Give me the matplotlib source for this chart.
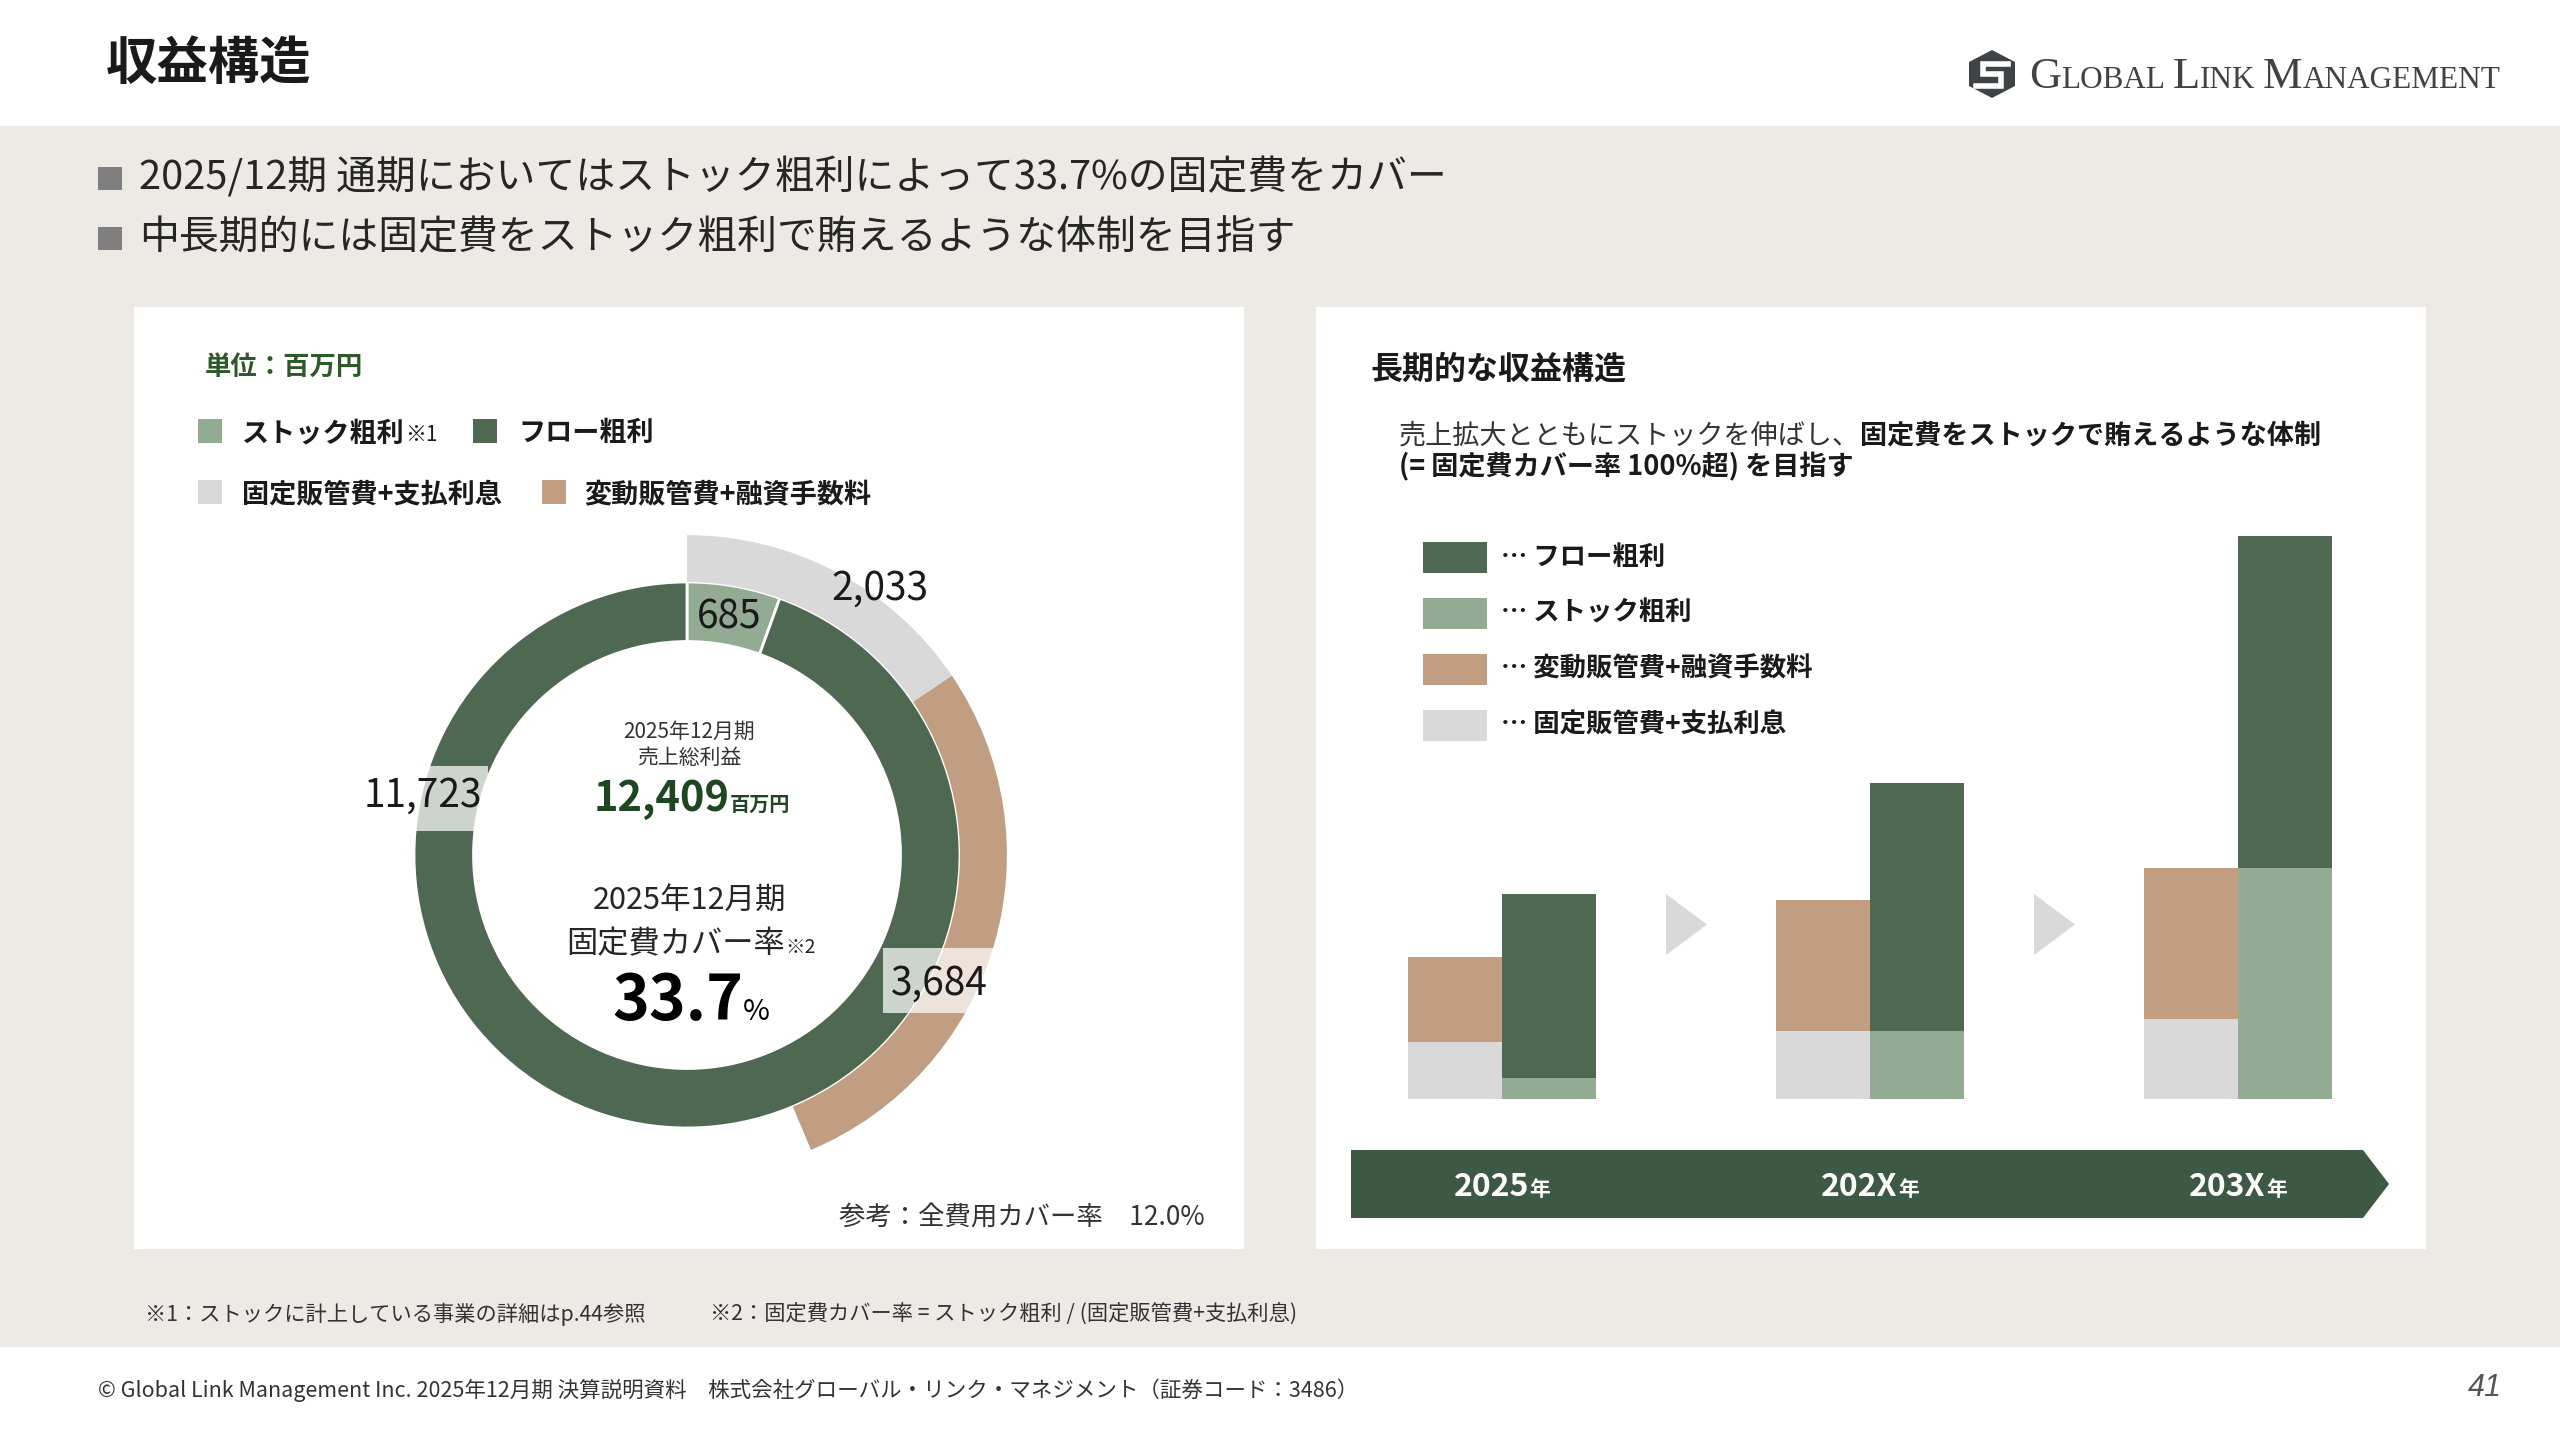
import numpy as np
import matplotlib
matplotlib.use('Agg')
import matplotlib.pyplot as plt
from matplotlib.patches import Rectangle, Polygon

plt.rcParams['font.family'] = ['Noto Sans CJK JP', 'DejaVu Sans']

# ---- data ----
# 2025/12 donut (百万円)
inner_labels = ['ストック粗利', 'フロー粗利']
inner_values = [685, 11723]
outer_labels = ['固定販管費+支払利息', '変動販管費+融資手数料']
outer_values = [2033, 3684]
gross_profit = 12409
fixed_cover = 33.7
all_cover = 12.0

# long term image (relative heights)
years = ['2025', '202X', '203X']
fixed_cost = [57, 68, 80]
variable_cost = [85, 131, 151]
stock_gp = [21, 68, 231]
flow_gp = [184, 248, 332]

C_FLOW = '#4f6851'
C_STOCK = '#93ab93'
C_VAR = '#c19e81'
C_FIX = '#d9d9d9'
C_BAND = '#3d5843'
C_BG = '#edeae5'
C_TXT = '#1a1a1a'

W, H = 2560, 1440
fig = plt.figure(figsize=(W / 100, H / 100), dpi=100)
fig.patch.set_facecolor('white')
R = fig.canvas.get_renderer()

# background axes in pixel coords (y down)
bg = fig.add_axes([0, 0, 1, 1], zorder=0)
bg.set_xlim(0, W)
bg.set_ylim(H, 0)
bg.axis('off')


def box(x0, y0, x1, y1, color, ax=bg, **kw):
    ax.add_patch(Rectangle((x0, y0), x1 - x0, y1 - y0, color=color, lw=0, **kw))


def runs(x, y, parts, ha='left', **common):
    # draw pieces of text one after another on a common baseline
    objs = []
    for s, kw in parts:
        opts = dict(common)
        opts.update(kw)
        objs.append(bg.text(0, y, s, va='baseline', ha='left', **opts))
    widths = [t.get_window_extent(R).width for t in objs]
    total = sum(widths)
    x0 = x - total / 2 if ha == 'center' else (x - total if ha == 'right' else x)
    for t, w in zip(objs, widths):
        t.set_x(x0)
        x0 += w


# page layout
box(0, 126, W, 1347, C_BG)
box(134, 307, 1244, 1249, 'white')
box(1316, 307, 2426, 1249, 'white')

bg.text(106, 63, '収益構造', fontsize=37, fontweight='bold', color=C_TXT, va='center')

# logo
icon = Polygon([(1992, 50), (2015, 62), (2015, 86), (1992, 98), (1969, 86), (1969, 62)],
               closed=True, color='#3f4345', lw=0)
bg.add_patch(icon)
bg.plot([2008, 1983, 1983, 2001, 2001, 1976], [64, 64, 74, 74, 86, 86], color='white',
        lw=4, solid_joinstyle='miter')
logo_parts = []
for word in ['GLOBAL', 'LINK', 'MANAGEMENT']:
    logo_parts.append((word[0], dict(fontsize=32)))
    logo_parts.append((word[1:], dict(fontsize=22.5)))
    logo_parts.append(('  ', dict(fontsize=11)))
runs(2029, 88, logo_parts[:-1], family='Liberation Serif', color='#3f4345')

# bullets
for y, s in [(178, '2025/12期 通期においてはストック粗利によって33.7%の固定費をカバー'),
             (238, '中長期的には固定費をストック粗利で賄えるような体制を目指す')]:
    box(98, y - 11, 122, y + 12, '#7f7f7f')
    bg.text(139, y, s, fontsize=28.7, color='#262626', va='center')

# ---- left panel ----
bg.text(205, 367, '単位：百万円', fontsize=19, fontweight='bold', color='#2e5a2a', va='center')
leg_left = [(198, 242, 431, C_STOCK, [('ストック粗利', dict(fontweight='bold')), ('※1', dict(fontsize=15))]),
            (473, 518, 431, C_FLOW, [('フロー粗利', dict(fontweight='bold'))]),
            (198, 242, 492, C_FIX, [(outer_labels[0], dict(fontweight='bold'))]),
            (542, 584, 492, C_VAR, [(outer_labels[1], dict(fontweight='bold'))])]
for sx, tx, y, c, parts in leg_left:
    box(sx, y - 12, sx + 24, y + 12, c)
    runs(tx, y + 10, parts, fontsize=19.5, color=C_TXT)

# donut
cx, cy, half = 687, 855, 350
axd = fig.add_axes([(cx - half) / W, (H - cy - half) / H, 2 * half / W, 2 * half / H], zorder=1)
total = sum(inner_values)
axd.pie(inner_values, colors=[C_STOCK, C_FLOW], startangle=90, counterclock=False,
        radius=0.78, wedgeprops=dict(width=0.17, edgecolor='white', linewidth=2))
# the slide's outer ring runs on a slightly larger full circle (sales + stock)
outer_total = total + inner_values[0]
rest = outer_total - sum(outer_values)
axd.pie(outer_values + [rest], colors=[C_FIX, C_VAR, 'none'], startangle=90, counterclock=False,
        radius=0.914, wedgeprops=dict(width=0.134, linewidth=0))
axd.set_xlim(-1, 1)
axd.set_ylim(-1, 1)
axd.set_facecolor('none')

th = np.radians(inner_values[0] / total * 180)
axd.text(0.69 * np.sin(th), 0.69 * np.cos(th), f'{inner_values[0]:,}', fontsize=28,
         ha='center', va='center', color=C_TXT, zorder=5)
th = np.radians(outer_values[0] / outer_total * 180 + 8)
axd.text(0.94 * np.sin(th), 0.94 * np.cos(th), f'{outer_values[0]:,}', fontsize=28,
         ha='center', va='center', color=C_TXT, zorder=5)
axd.add_patch(Rectangle((-0.774, 0.07), 0.205, 0.183, color='white', alpha=0.72, lw=0, zorder=4))
axd.text(-0.756, 0.171, f'{inner_values[1]:,}', fontsize=28, ha='center', va='center',
         color=C_TXT, zorder=5)
axd.add_patch(Rectangle((0.561, -0.451), 0.325, 0.185, color='white', alpha=0.72, lw=0, zorder=4))
axd.text(0.72, -0.366, f'{outer_values[1]:,}', fontsize=28, ha='center', va='center',
         color=C_TXT, zorder=5)

# donut centre texts
bg.text(689, 732, '2025年12月期', fontsize=15, ha='center', va='center', color='#333333')
bg.text(689, 758, '売上総利益', fontsize=15, ha='center', va='center', color='#333333')
runs(692, 811, [(f'{gross_profit:,}', dict(fontsize=30)), ('百万円', dict(fontsize=14.5))],
     ha='center', fontweight='bold', color='#1e4620')
bg.text(689, 901, '2025年12月期', fontsize=22, ha='center', va='center', color='#262626')
runs(691, 953, [('固定費カバー率', dict(fontsize=22.5)), ('※2', dict(fontsize=14))],
     ha='center', color='#262626')
runs(691, 1020, [(f'{fixed_cover:.1f}', dict(fontsize=45, fontweight='bold')), ('%', dict(fontsize=21))],
     ha='center', color='black')

bg.text(1205, 1218, f'参考：全費用カバー率　{all_cover:.1f}%', fontsize=19, ha='right', va='center',
        color='#333333')

# ---- right panel ----
bg.text(1371, 370, '長期的な収益構造', fontsize=23, fontweight='bold', color=C_TXT, va='center')
runs(1399, 443, [('売上拡大とともにストックを伸ばし、', dict(color='#333333')),
                 ('固定費をストックで賄えるような体制', dict(fontweight='bold', color=C_TXT))],
     fontsize=19.5)
bg.text(1399, 467, '(= 固定費カバー率 100%超) を目指す', fontsize=19.5, fontweight='bold',
        color=C_TXT, va='center')

leg_right = [('フロー粗利', C_FLOW), ('ストック粗利', C_STOCK), (outer_labels[1], C_VAR),
             (outer_labels[0], C_FIX)]
for (lab, c), y in zip(leg_right, [557, 613, 669, 725]):
    box(1423, y - 15, 1487, y + 16, c)
    bg.text(1501, y, '… ' + lab, fontsize=19, fontweight='bold', color=C_TXT, va='center')

# stacked bars
bl, br, base, top = 1380, 2380, 1099, 499
axb = fig.add_axes([bl / W, (H - base) / H, (br - bl) / W, (base - top) / H], zorder=1)
axb.set_xlim(-0.3315, 2.386)
axb.set_ylim(0, base - top)
axb.axis('off')
x = np.arange(len(years))
w = 0.2555
axb.bar(x - w / 2, fixed_cost, w, color=C_FIX, lw=0)
axb.bar(x - w / 2, variable_cost, w, bottom=fixed_cost, color=C_VAR, lw=0)
axb.bar(x + w / 2, stock_gp, w, color=C_STOCK, lw=0)
axb.bar(x + w / 2, flow_gp, w, bottom=stock_gp, color=C_FLOW, lw=0)
for i in range(len(years) - 1):
    axb.add_patch(Polygon([(i + 0.446, 144), (i + 0.557, 174.5), (i + 0.446, 205)],
                          closed=True, color=C_FIX, lw=0))

# timeline arrow
bg.add_patch(Polygon([(1351, 1150), (2363, 1150), (2389, 1184), (2363, 1218), (1351, 1218)],
                     closed=True, color=C_BAND, lw=0))
for i, yr in enumerate(years):
    px = axb.transData.transform((i, 0))[0]
    runs(px, 1196, [(yr, dict(fontsize=23)), ('年', dict(fontsize=15))], ha='center',
         fontweight='bold', color='white')

# footnotes / footer
bg.text(145, 1314, '※1：ストックに計上している事業の詳細はp.44参照', fontsize=15.3, color='#333333',
        va='center')
bg.text(710, 1314, '※2：固定費カバー率 = ストック粗利 / (固定販管費+支払利息)', fontsize=15.3,
        color='#333333', va='center')
bg.text(98, 1390, '© Global Link Management Inc. 2025年12月期 決算説明資料　'
        '株式会社グローバル・リンク・マネジメント（証券コード：3486）', fontsize=15.5,
        color='#333333', va='center')
bg.text(2502, 1388, '41', fontsize=22, family='Liberation Sans', style='italic', color='#555555',
        ha='right', va='center')

fig.savefig('out.png', dpi=100, facecolor='white')
